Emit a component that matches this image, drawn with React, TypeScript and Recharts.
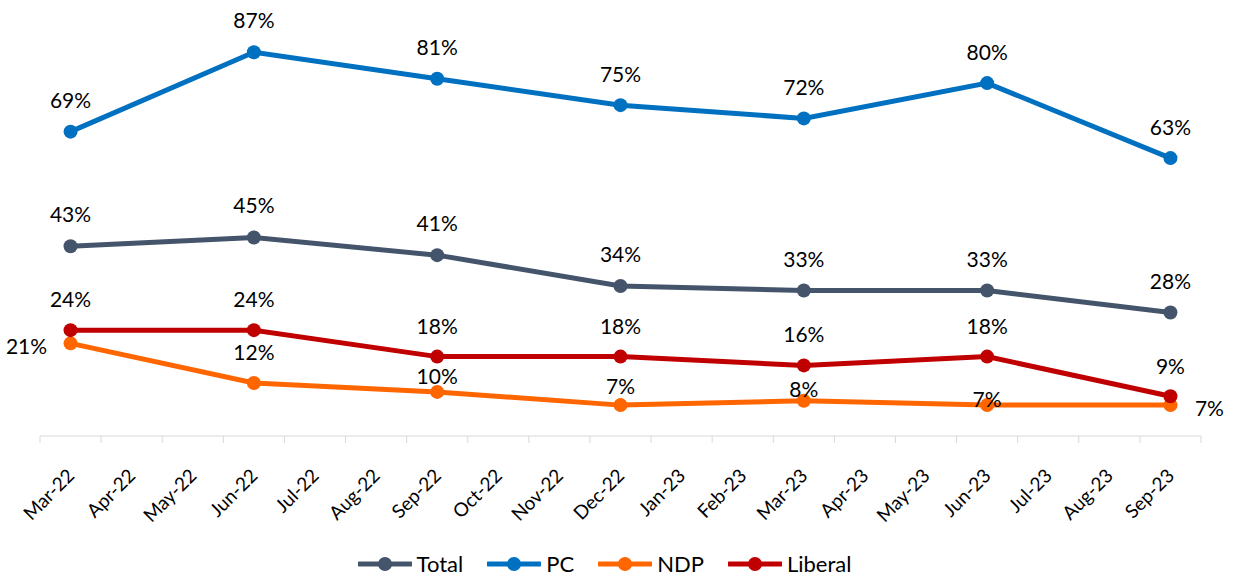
import { LineChart, Line, XAxis, YAxis, Legend, LabelList } from 'recharts';

const months = [
  'Mar-22', 'Apr-22', 'May-22', 'Jun-22', 'Jul-22', 'Aug-22', 'Sep-22', 'Oct-22', 'Nov-22', 'Dec-22',
  'Jan-23', 'Feb-23', 'Mar-23', 'Apr-23', 'May-23', 'Jun-23', 'Jul-23', 'Aug-23', 'Sep-23',
];
const surveyMonths = ['Mar-22', 'Jun-22', 'Sep-22', 'Dec-22', 'Mar-23', 'Jun-23', 'Sep-23'];
const total = [43, 45, 41, 34, 33, 33, 28];
const pc = [69, 87, 81, 75, 72, 80, 63];
const ndp = [21, 12, 10, 7, 8, 7, 7];
const liberal = [24, 24, 18, 18, 16, 18, 9];

const FONT = 'Lato, "Open Sans", sans-serif';

const series = [
  { key: 'Total', values: total, color: '#44546A' },
  { key: 'PC', values: pc, color: '#0070C0' },
  { key: 'NDP', values: ndp, color: '#FF6600' },
  { key: 'Liberal', values: liberal, color: '#C00000' },
];

// label offsets from the point, per series (excel moved some of them around)
const labelOffsets: Record<string, [number, number][]> = {
  Total: [[0, -33], [0, -33], [0, -33], [0, -33], [0, -32], [0, -32], [0, -32]],
  PC: [[0, -32], [0, -33], [0, -32], [0, -32], [0, -32], [0, -32], [0, -32]],
  NDP: [[-44, 2], [0, -32], [0, -16], [0, -20], [0, -12], [0, -7], [39, 2]],
  Liberal: [[0, -32], [0, -32], [0, -31], [0, -31], [0, -32], [0, -31], [0, -31]],
};

const chartData = months.map((m) => {
  const i = surveyMonths.indexOf(m);
  const row: Record<string, string | number | null> = { month: m };
  series.forEach((s) => {
    row[s.key] = i >= 0 ? s.values[i] : null;
  });
  return row;
});

const BAND = (1233 - 40 - 32) / months.length;

function MonthTick(props: any) {
  const { x, y, payload, index } = props;
  const last = index === months.length - 1;
  const tx = x + 5;
  const ty = y + 33;
  return (
    <g>
      <line x1={x - BAND / 2} y1={y - 8} x2={x - BAND / 2} y2={y - 1} stroke="#D9D9D9" strokeWidth={1} />
      {last && <line x1={x + BAND / 2} y1={y - 8} x2={x + BAND / 2} y2={y - 1} stroke="#D9D9D9" strokeWidth={1} />}
      <text
        x={tx}
        y={ty}
        textAnchor="end"
        transform={`rotate(-45, ${tx}, ${ty})`}
        fontFamily={FONT}
        fontSize={19}
        fill="#000"
      >
        {payload.value}
      </text>
    </g>
  );
}

function makeLabel(key: string) {
  return (props: any) => {
    const { x, y, value, index } = props;
    if (value == null) return null;
    const idx = surveyMonths.indexOf(months[index]);
    const [dx, dy] = labelOffsets[key][idx] || [0, -32];
    return (
      <text
        x={x + dx}
        y={y + dy}
        textAnchor="middle"
        dominantBaseline="central"
        fontFamily={FONT}
        fontSize={21}
        fill="#000"
      >
        {`${value}%`}
      </text>
    );
  };
}

function LegendContent() {
  return (
    <div style={{ display: 'flex', justifyContent: 'center', alignItems: 'center', fontFamily: FONT, fontSize: 22 }}>
      {series.map((s) => (
        <div key={s.key} style={{ display: 'flex', alignItems: 'center', marginRight: 24 }}>
          <svg width={54} height={16}>
            <line x1={1} y1={8} x2={53} y2={8} stroke={s.color} strokeWidth={5} strokeLinecap="round" />
            <circle cx={27} cy={8} r={7} fill={s.color} />
          </svg>
          <span style={{ marginLeft: 5, color: '#000' }}>{s.key}</span>
        </div>
      ))}
    </div>
  );
}

export default function App() {
  return (
    <div style={{ position: 'absolute', left: 0, top: 0, width: 1233, height: 575, background: '#fff' }}>
      <LineChart width={1233} height={575} data={chartData} margin={{ top: 39, right: 32, bottom: 12, left: 40 }}>
        <XAxis
          dataKey="month"
          scale="band"
          interval={0}
          height={100}
          axisLine={{ stroke: '#D9D9D9', strokeWidth: 1 }}
          tickLine={false}
          tick={<MonthTick />}
        />
        <YAxis hide domain={[0, 90]} />
        <Legend
          verticalAlign="bottom"
          content={<LegendContent />}
          wrapperStyle={{ left: 0, width: 1233, top: 550 }}
        />
        {series.map((s) => (
          <Line
            key={s.key}
            dataKey={s.key}
            stroke={s.color}
            strokeWidth={5}
            connectNulls
            dot={{ r: 7, fill: s.color, stroke: s.color, strokeWidth: 0 }}
            activeDot={false}
            isAnimationActive={false}
          >
            <LabelList dataKey={s.key} content={makeLabel(s.key)} />
          </Line>
        ))}
      </LineChart>
    </div>
  );
}
